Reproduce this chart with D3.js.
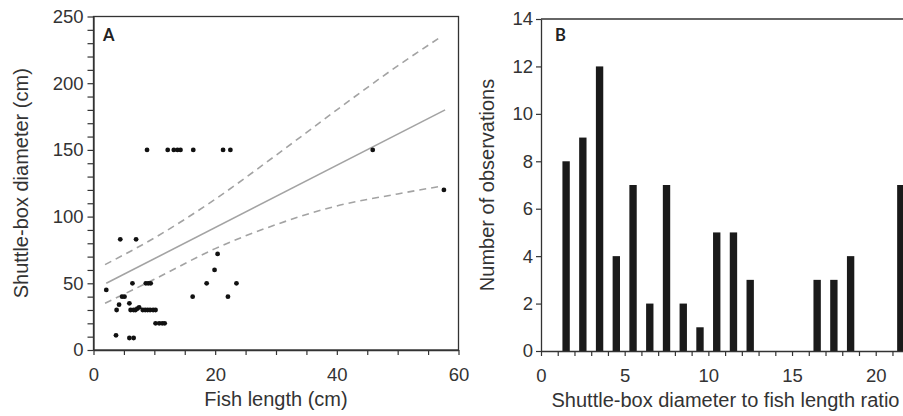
<!DOCTYPE html>
<html><head><meta charset="utf-8">
<script src="https://cdn.jsdelivr.net/npm/d3@7"></script>
<style>
html,body{margin:0;padding:0;background:#fff;}
svg{display:block;font-family:"Liberation Sans",Arial,sans-serif;}
</style></head>
<body><svg id="c" width="903" height="416"></svg>
<script>
// Panel A data: fish length (cm) vs shuttle-box diameter (cm)
const fishLength = [2.1,4.4,7.0,8.8,12.2,13.2,13.8,14.3,16.4,21.3,22.5,45.9,57.6,20.4,19.9,18.6,23.5,16.3,22.1,6.4,8.6,9.0,9.4,4.7,5.1,4.2,3.8,5.9,3.7,5.9,6.6,6.1,6.6,6.9,7.2,7.5,8.1,8.5,8.9,9.3,9.8,10.2,10.2,10.8,11.3,11.7];
const boxDiameter = [45,83,83,150,150,150,150,150,150,150,150,150,120,72,60,50,50,40,40,50,50,50,50,40,40,34,30,35,11,9,9,30,30,30,31,32,30,30,30,30,30,30,20,20,20,20];
const fitX = [2.1, 57.8];
const fitY = [50, 180];
const upperX = [1.9,10,20,30,40,50,57.2];
const upperY = [64,84,113,146,180,213,235];
const lowerX = [1.9,10,20,30,40,50,57.4];
const lowerY = [35,53,76,94,108,117,123];
const aXTicks = [0,20,40,60];
const aYTicks = [0,50,100,150,200,250];

// Panel B data: histogram of ratio
const ratioBins = [1.5,2.5,3.5,4.5,5.5,6.5,7.5,8.5,9.5,10.5,11.5,12.5,13.5,14.5,15.5,16.5,17.5,18.5,19.5,20.5,21.5];
const counts    = [8,9,12,4,7,2,7,2,1,5,5,3,0,0,0,3,3,4,0,0,7];
const bXTicks = [0,5,10,15,20];
const bYTicks = [0,2,4,6,8,10,12,14];

const svg = d3.select("#c");
const axisCol = "#333";
const tickFont = 18.5;
const titleFont = 20;

// ---------- Panel A ----------
const ax = d3.scaleLinear().domain([0,60]).range([93.5,458.5]);
const ay = d3.scaleLinear().domain([0,250]).range([350,16.5]);
const gA = svg.append("g");

gA.append("rect").attr("x",ax(0)).attr("y",ay(250)).attr("width",ax(60)-ax(0)).attr("height",ay(0)-ay(250))
  .attr("fill","none").attr("stroke",axisCol).attr("stroke-width",1.3);

const axA = d3.axisBottom(ax).tickValues(d3.range(0,61,5)).tickSize(5).tickSizeOuter(0)
  .tickFormat(d => aXTicks.includes(d) ? d : "");
const gax = gA.append("g").attr("transform",`translate(0,${ay(0)})`).call(axA);
const ayA = d3.axisLeft(ay).tickValues(d3.range(0,251,10)).tickSize(6).tickSizeOuter(0)
  .tickFormat(d => aYTicks.includes(d) ? d : "");
const gay = gA.append("g").attr("transform",`translate(${ax(0)},0)`).call(ayA);
[gax,gay].forEach(g=>{
  g.select(".domain").attr("stroke",axisCol).attr("stroke-width",1.3);
  g.selectAll(".tick line").attr("stroke",axisCol).attr("stroke-width",1.2);
  g.selectAll(".tick text").attr("font-size",tickFont).attr("fill","#333").attr("font-family","Liberation Sans, Arial, sans-serif");
});
gax.selectAll(".tick text").attr("dy","0").attr("y",31);
gay.selectAll(".tick text").attr("x",-10);

const lineA = d3.line().x(d=>ax(d[0])).y(d=>ay(d[1])).curve(d3.curveMonotoneX);
gA.append("path").datum(upperX.map((x,i)=>[x,upperY[i]])).attr("d",lineA)
  .attr("fill","none").attr("stroke","#a3a3a3").attr("stroke-width",1.6).attr("stroke-dasharray","7,5");
gA.append("path").datum(lowerX.map((x,i)=>[x,lowerY[i]])).attr("d",lineA)
  .attr("fill","none").attr("stroke","#a3a3a3").attr("stroke-width",1.6).attr("stroke-dasharray","7,5");
gA.append("path").datum(fitX.map((x,i)=>[x,fitY[i]])).attr("d",lineA)
  .attr("fill","none").attr("stroke","#a3a3a3").attr("stroke-width",1.6);

gA.selectAll("circle").data(fishLength.map((x,i)=>[x,boxDiameter[i]])).join("circle")
  .attr("cx",d=>ax(d[0])).attr("cy",d=>ay(d[1])).attr("r",2.4).attr("fill","#111");

gA.append("text").attr("x",103).attr("y",41).text("A").attr("font-family","Lato, 'Open Sans', sans-serif")
  .attr("font-weight","bold").attr("font-size",16.5).attr("fill","#222");

gA.append("text").attr("x",(ax(0)+ax(60))/2).attr("y",406).attr("text-anchor","middle")
  .attr("font-size",titleFont).attr("fill","#333").text("Fish length (cm)");
gA.append("text").attr("transform",`translate(28,${(ay(0)+ay(250))/2}) rotate(-90)`).attr("text-anchor","middle")
  .attr("font-size",titleFont).attr("fill","#333").text("Shuttle-box diameter (cm)");

// ---------- Panel B ----------
const bx = d3.scaleLinear().domain([0,21.63]).range([541,903]);
const by = d3.scaleLinear().domain([0,14]).range([351,19]);
const gB = svg.append("g");

gB.append("line").attr("x1",bx(0)).attr("x2",903).attr("y1",by(14)).attr("y2",by(14))
  .attr("stroke",axisCol).attr("stroke-width",1.3);

const bw = 0.44;
gB.selectAll("rect.bar").data(ratioBins.map((x,i)=>[x,counts[i]]).filter(d=>d[1]>0)).join("rect")
  .attr("class","bar")
  .attr("x",d=>bx(d[0]-bw/2)).attr("width",bx(bw)-bx(0))
  .attr("y",d=>by(d[1])).attr("height",d=>by(0)-by(d[1])).attr("fill","#1a1a1a");

const axB = d3.axisBottom(bx).tickValues(d3.range(0,22,1)).tickSize(5).tickSizeOuter(0)
  .tickFormat(d => bXTicks.includes(d) ? d : "");
const gbx = gB.append("g").attr("transform",`translate(0,${by(0)})`).call(axB);
const ayB = d3.axisLeft(by).tickValues(bYTicks).tickSize(5).tickSizeOuter(0);
const gby = gB.append("g").attr("transform",`translate(${bx(0)},0)`).call(ayB);
[gbx,gby].forEach(g=>{
  g.select(".domain").attr("stroke",axisCol).attr("stroke-width",1.3);
  g.selectAll(".tick line").attr("stroke",axisCol).attr("stroke-width",1.2);
  g.selectAll(".tick text").attr("font-size",tickFont).attr("fill","#333").attr("font-family","Liberation Sans, Arial, sans-serif");
});
gbx.selectAll(".tick text").attr("dy","0").attr("y",31);
gby.selectAll(".tick text").attr("x",-8);

gB.append("text").attr("x",555).attr("y",41).text("B").attr("font-family","Lato, 'Open Sans', sans-serif")
  .attr("font-weight","bold").attr("font-size",16.5).attr("fill","#222");

gB.append("text").attr("x",551.5).attr("y",407).attr("text-anchor","start")
  .attr("font-size",titleFont).attr("fill","#333").text("Shuttle-box diameter to fish length ratio");
gB.append("text").attr("transform",`translate(494,${(by(0)+by(14))/2}) rotate(-90)`).attr("text-anchor","middle")
  .attr("font-size",titleFont).attr("fill","#333").text("Number of observations");
</script></body></html>
